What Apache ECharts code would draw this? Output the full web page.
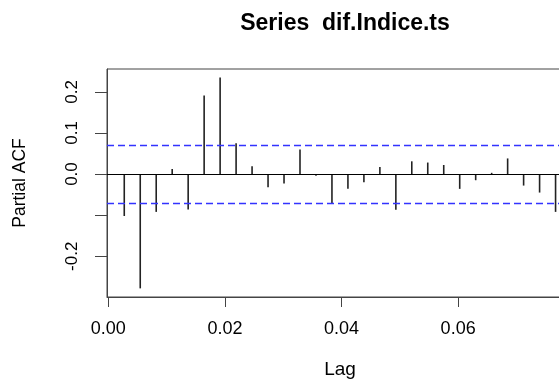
<!DOCTYPE html>
<html>
<head>
<meta charset="utf-8">
<script src="https://cdn.jsdelivr.net/npm/echarts@6/dist/echarts.min.js"></script>
<style>html,body{margin:0;padding:0;background:#fff;}#c{width:559px;height:384px;}</style>
</head>
<body>
<div id="c"></div>
<script>
const titleText = 'Series  dif.Indice.ts';
const lags = [0.00274, 0.00548, 0.00822, 0.01096, 0.01370, 0.01644, 0.01918, 0.02192, 0.02466, 0.02740,
              0.03014, 0.03288, 0.03562, 0.03836, 0.04110, 0.04384, 0.04658, 0.04932, 0.05205, 0.05479,
              0.05753, 0.06027, 0.06301, 0.06575, 0.06849, 0.07123, 0.07397, 0.07671];
const pacf = [-0.102, -0.278, -0.092, 0.012, -0.086, 0.191, 0.235, 0.075, 0.019, -0.032,
              -0.023, 0.060, -0.004, -0.073, -0.036, -0.020, 0.017, -0.087, 0.031, 0.028,
              0.022, -0.036, -0.015, 0.003, 0.038, -0.028, -0.045, -0.092];
const confLimit = 0.0718;
const xTicks = [0, 0.02, 0.04, 0.06];
const yTicks = [-0.2, -0.1, 0, 0.1, 0.2];
const yLabels = [-0.2, 0, 0.1, 0.2];

const FONT = '"Liberation Sans", Arial, Helvetica, sans-serif';
const chart = echarts.init(document.getElementById('c'), null, {renderer: 'canvas'});
const data = lags.map((l, i) => [l, pacf[i]]);

chart.setOption({
  animation: false,
  backgroundColor: '#ffffff',
  title: {
    text: titleText,
    left: 340, top: 7, textAlign: 'center',
    textStyle: {fontFamily: FONT, fontSize: 23, fontWeight: 'bold', color: '#000'}
  },
  grid: {left: 107, top: 69, width: 466, height: 228, show: true, borderColor: '#444', borderWidth: 1,
         backgroundColor: 'transparent', containLabel: false, outerBoundsMode: 'none'},
  xAxis: {
    type: 'value', min: -0.00022, max: 0.0797, position: 'bottom',
    name: 'Lag', nameLocation: 'middle', nameGap: 63,
    nameTextStyle: {fontFamily: FONT, fontSize: 19, color: '#000'},
    axisLine: {show: true, onZero: false, lineStyle: {color: '#444', width: 1}},
    axisTick: {show: true, customValues: xTicks, length: 10, lineStyle: {color: '#444', width: 1}},
    axisLabel: {show: true, customValues: xTicks, margin: 23, fontFamily: FONT, fontSize: 18, color: '#000',
                formatter: v => v.toFixed(2)},
    splitLine: {show: false}
  },
  yAxis: {
    type: 'value', min: -0.299, max: 0.2555, position: 'left',
    name: 'Partial ACF', nameLocation: 'middle', nameGap: 78, nameRotate: 90,
    nameTextStyle: {fontFamily: FONT, fontSize: 17.5, color: '#000'},
    axisLine: {show: true, onZero: false, lineStyle: {color: '#444', width: 1}},
    axisTick: {show: true, customValues: yTicks, length: 12, lineStyle: {color: '#444', width: 1}},
    axisLabel: {show: true, customValues: yLabels, rotate: 90, margin: 26, fontFamily: FONT, fontSize: 17, color: '#000',
                formatter: v => v.toFixed(1)},
    splitLine: {show: false}
  },
  series: [{
    type: 'custom',
    data: data,
    renderItem: function (params, api) {
      const p0 = api.coord([api.value(0), 0]);
      const p1 = api.coord([api.value(0), api.value(1)]);
      return {type: 'line', shape: {x1: p0[0], y1: p0[1], x2: p1[0], y2: p1[1]},
              style: {stroke: '#222', lineWidth: 1.6}};
    },
    markLine: {
      silent: true, symbol: ['none', 'none'], label: {show: false},
      data: [
        {yAxis: 0, lineStyle: {color: '#000', width: 1.2, type: 'solid'}},
        {yAxis: confLimit, lineStyle: {color: '#3333ff', width: 1.3, type: [7, 4]}},
        {yAxis: -confLimit, lineStyle: {color: '#3333ff', width: 1.3, type: [7, 4]}}
      ]
    }
  }]
});
</script>
</body>
</html>
